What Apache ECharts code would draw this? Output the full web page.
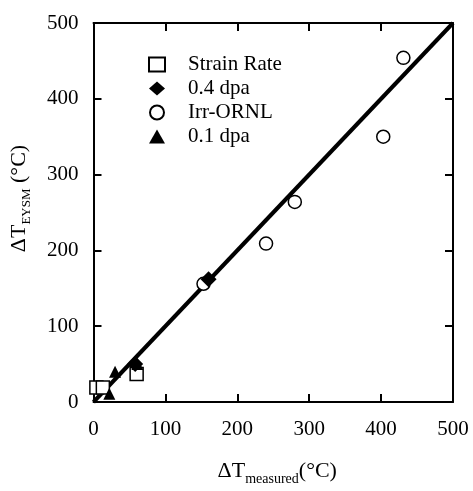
<!DOCTYPE html>
<html><head><meta charset="utf-8">
<script src="https://cdn.jsdelivr.net/npm/echarts@6/dist/echarts.min.js"></script>
<style>html,body{margin:0;padding:0;background:#fff}#c{width:473px;height:491px}</style>
</head><body><div id="c"></div>
<script>
var xTicks = [0, 100, 200, 300, 400, 500];
var yTicks = [0, 100, 200, 300, 400, 500];
var strainRate = [[4, 19], [13, 19], [60, 37]];
var dpa04 = [[58, 50], [160, 162]];
var irrORNL = [[153, 156], [240, 209], [280, 264], [403, 350], [431, 454]];
var dpa01 = [[22, 11], [30, 40], [61, 50]];
var fitLine = [[0, 0], [500, 500]];

var font = 'Liberation Serif';
var chart = echarts.init(document.getElementById('c'));
function axisBase(extra) {
  return Object.assign({
    type: 'value', min: 0, max: 500, interval: 100,
    axisLine: {show: true, onZero: false, lineStyle: {color: '#000', width: 2}},
    axisTick: {show: true, inside: true, length: 8, lineStyle: {color: '#000', width: 2}},
    splitLine: {show: false}
  }, extra);
}
chart.setOption({
  animation: false,
  textStyle: {fontFamily: font, color: '#000'},
  grid: {left: 91, right: 20, top: 23, bottom: 89},
  legend: {
    orient: 'vertical', left: 143, top: 49, itemGap: 3, itemWidth: 16, itemHeight: 14,
    textStyle: {fontFamily: font, fontSize: 21, color: '#000', padding: [0, 0, 0, 18]},
    data: ['Strain Rate', '0.4 dpa', 'Irr-ORNL', '0.1 dpa']
  },
  xAxis: [
    axisBase({
      position: 'bottom',
      axisLabel: {fontFamily: font, fontSize: 21, color: '#000', margin: 17,
        formatter: function (v) { return xTicks.indexOf(v) >= 0 ? String(v) : ''; }},
      name: '{a|ΔT}{s|measured}{a|(°C)}', nameLocation: 'middle', nameGap: 54,
      nameTextStyle: {padding: [0, 0, 0, 8], rich: {
        a: {fontFamily: font, fontSize: 22, color: '#000'},
        s: {fontFamily: font, fontSize: 14, color: '#000', padding: [16, 0, 0, 0]}
      }}
    }),
    axisBase({position: 'top', axisLabel: {show: false}})
  ],
  yAxis: [
    axisBase({
      position: 'left',
      axisLabel: {fontFamily: font, fontSize: 21, color: '#000', margin: 15,
        formatter: function (v) { return yTicks.indexOf(v) >= 0 ? String(v) : ''; }},
      name: '{a|ΔT}{s|EYSM}{a| (°C)}', nameLocation: 'middle', nameGap: 60,
      nameTextStyle: {padding: [0, 0, 0, 28], rich: {
        a: {fontFamily: font, fontSize: 22, color: '#000'},
        s: {fontFamily: font, fontSize: 13, color: '#000', padding: [16, 0, 0, 0]}
      }}
    }),
    axisBase({position: 'right', axisLabel: {show: false}})
  ],
  series: [
    {type: 'line', data: fitLine, symbol: 'none', lineStyle: {color: '#000', width: 4}, silent: true, z: 1},
    {name: 'Strain Rate', type: 'scatter', data: strainRate, symbol: 'rect', symbolSize: 13,
      itemStyle: {color: '#fff', borderColor: '#000', borderWidth: 1.5, opacity: 1}, z: 3},
    {name: '0.4 dpa', type: 'scatter', data: dpa04, symbol: 'diamond', symbolSize: 16,
      itemStyle: {color: '#000', opacity: 1}, z: 4},
    {name: 'Irr-ORNL', type: 'scatter', data: irrORNL, symbol: 'circle', symbolSize: 13,
      itemStyle: {color: '#fff', borderColor: '#000', borderWidth: 1.5, opacity: 1}, z: 3},
    {name: '0.1 dpa', type: 'scatter', data: dpa01, symbol: 'triangle', symbolSize: 12,
      itemStyle: {color: '#000', opacity: 1}, z: 4}
  ]
});
</script></body></html>
